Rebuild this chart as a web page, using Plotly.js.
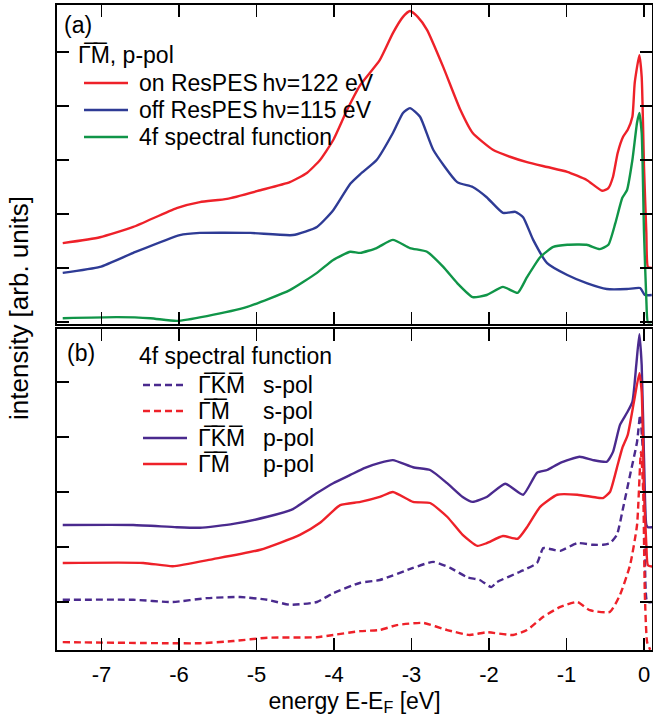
<!DOCTYPE html>
<html><head><meta charset="utf-8">
<script src="https://cdn.plot.ly/plotly-3.0.1.min.js"></script>
<style>html,body{margin:0;padding:0;background:#fff}</style>
</head><body>
<div id="chart" style="width:653px;height:722px"></div>
<script>
// ---------- Panel (a): GammaM, p-pol ----------
const eOnRes = [-7.50,-7.02,-6.59,-6.03,-5.73,-5.38,-4.95,-4.57,-4.35,-4.18,-4.01,-3.83,-3.66,-3.41,-3.24,-3.11,-3.02,-2.92,-2.80,-2.59,-2.37,-2.21,-1.95,-1.73,-1.51,-1.25,-0.99,-0.74,-0.54,-0.46,-0.40,-0.34,-0.27,-0.21,-0.15,-0.12,-0.06,-0.03,0.00,0.03,0.05,0.10];
const onRes  = [1.46,1.57,1.76,2.11,2.22,2.28,2.44,2.59,2.76,3.00,3.37,3.93,4.39,4.85,5.35,5.65,5.76,5.65,5.41,4.72,3.93,3.50,3.19,3.06,2.96,2.87,2.78,2.63,2.43,2.48,2.69,3.13,3.43,3.56,3.80,4.43,4.94,4.54,2.87,1.65,1.02,1.00];

const eOffRes = [-7.50,-7.02,-6.59,-5.99,-5.73,-5.08,-4.53,-4.22,-4.01,-3.79,-3.66,-3.45,-3.24,-3.11,-3.02,-2.89,-2.72,-2.41,-2.21,-2.03,-1.82,-1.66,-1.56,-1.43,-1.25,-0.99,-0.74,-0.48,-0.22,-0.05,0.01,0.10];
const offRes  = [0.91,1.02,1.28,1.61,1.65,1.65,1.61,1.76,2.07,2.56,2.74,3.00,3.50,3.87,3.96,3.80,3.19,2.59,2.50,2.31,2.02,2.04,1.94,1.52,1.09,0.87,0.72,0.61,0.61,0.63,0.50,0.50];

const eSpecA = [-7.50,-6.80,-6.37,-6.03,-5.64,-5.12,-4.57,-4.22,-4.01,-3.79,-3.66,-3.45,-3.24,-3.02,-2.80,-2.59,-2.41,-2.21,-2.03,-1.82,-1.63,-1.51,-1.34,-1.17,-0.99,-0.74,-0.57,-0.46,-0.37,-0.28,-0.22,-0.15,-0.09,-0.06,-0.03,0.00,0.03,0.05,0.10];
const specA  = [0.07,0.09,0.07,0.02,0.11,0.28,0.59,0.91,1.15,1.30,1.28,1.37,1.52,1.37,1.30,1.02,0.72,0.46,0.50,0.65,0.54,0.83,1.20,1.39,1.43,1.43,1.35,1.43,1.83,2.30,2.44,3.00,3.69,3.87,3.50,1.65,0.41,0.00,0.00];

// ---------- Panel (b): 4f spectral function ----------
const eGKM_p = [-7.50,-6.59,-6.03,-5.73,-5.30,-4.86,-4.53,-4.22,-4.01,-3.79,-3.60,-3.41,-3.24,-2.98,-2.76,-2.54,-2.34,-2.21,-2.03,-1.79,-1.56,-1.38,-1.25,-1.08,-0.83,-0.66,-0.48,-0.40,-0.31,-0.22,-0.15,-0.10,-0.06,-0.03,0.00,0.03,0.05,0.12];
const gkm_p  = [2.40,2.40,2.36,2.35,2.42,2.55,2.69,2.98,3.16,3.31,3.44,3.53,3.58,3.45,3.40,3.16,2.91,2.82,2.91,3.15,2.95,3.35,3.40,3.53,3.64,3.58,3.55,3.73,4.22,4.44,4.64,5.31,5.87,5.31,3.62,2.40,2.36,2.36];

const eGM_p = [-7.50,-6.46,-6.08,-5.56,-4.95,-4.44,-4.18,-3.92,-3.66,-3.41,-3.24,-2.98,-2.76,-2.54,-2.34,-2.15,-2.03,-1.82,-1.63,-1.51,-1.34,-1.12,-0.86,-0.66,-0.53,-0.44,-0.35,-0.28,-0.21,-0.13,-0.06,-0.03,0.00,0.03,0.05,0.12];
const gm_p  = [1.71,1.71,1.65,1.78,1.95,2.22,2.44,2.76,2.82,2.91,3.00,2.82,2.80,2.55,2.22,2.02,2.07,2.20,2.15,2.36,2.73,2.95,2.95,2.91,2.89,3.00,3.44,3.80,4.04,4.64,5.16,4.82,3.00,2.04,1.67,1.64];

const eGKM_s = [-7.50,-6.59,-6.08,-5.64,-5.21,-4.86,-4.57,-4.22,-4.01,-3.66,-3.41,-2.98,-2.72,-2.50,-2.28,-2.12,-1.97,-1.90,-1.60,-1.38,-1.30,-1.17,-1.08,-0.86,-0.66,-0.53,-0.44,-0.35,-0.27,-0.18,-0.09,-0.05,-0.01,0.01,0.04,0.10];
const gkm_s  = [1.04,1.04,1.00,1.07,1.09,1.04,0.95,1.00,1.16,1.35,1.40,1.62,1.73,1.62,1.45,1.40,1.27,1.36,1.55,1.71,1.98,1.95,1.93,2.07,2.04,2.04,2.07,2.22,2.71,3.31,3.91,4.40,3.62,2.09,1.00,1.00];

const eGM_s = [-7.50,-6.15,-5.73,-5.30,-4.86,-4.22,-4.01,-3.66,-3.41,-3.19,-2.85,-2.54,-2.25,-2.03,-1.69,-1.51,-1.30,-1.08,-0.86,-0.70,-0.44,-0.31,-0.18,-0.09,-0.04,-0.01,0.01,0.04,0.08];
const gm_s  = [0.27,0.25,0.25,0.29,0.35,0.36,0.40,0.47,0.49,0.58,0.62,0.49,0.40,0.45,0.40,0.49,0.73,0.91,1.00,0.85,0.82,1.13,1.67,2.40,3.73,3.00,1.18,0.27,0.13];

// ---------- axis ticks ----------
const xTickVals = [-7,-6,-5,-4,-3,-2,-1,0];
const xTickText = ['-7','-6','-5','-4','-3','-2','-1','0'];
const yTickValsA = [0,1,2,3,4,5];
const yTickValsB = [1,2,3,4,5];

// ---------- styling ----------
const RED = '#ee2129', BLUE = '#2e3b95', GREEN = '#109548', PURPLE = '#4a2a8e';
const LW = 2.4;
const FONT = 'Liberation Sans, Arial, Helvetica, sans-serif';
const OL = '\u0305';
const G = '\u0393' + OL, M = 'M' + OL, K = 'K' + OL;

function ln(color, dash){ return {color: color, width: LW, dash: dash || 'solid', shape: 'spline', smoothing: 0.5}; }

const traces = [
  {x: eOnRes, y: onRes, xaxis: 'x2', yaxis: 'y2', mode: 'lines', line: ln(RED)},
  {x: eOffRes, y: offRes, xaxis: 'x2', yaxis: 'y2', mode: 'lines', line: ln(BLUE)},
  {x: eSpecA, y: specA, xaxis: 'x2', yaxis: 'y2', mode: 'lines', line: ln(GREEN)},
  {x: eGKM_s, y: gkm_s, xaxis: 'x', yaxis: 'y', mode: 'lines', line: ln(PURPLE, '7px,4px')},
  {x: eGM_s, y: gm_s, xaxis: 'x', yaxis: 'y', mode: 'lines', line: ln(RED, '7px,4px')},
  {x: eGKM_p, y: gkm_p, xaxis: 'x', yaxis: 'y', mode: 'lines', line: ln(PURPLE)},
  {x: eGM_p, y: gm_p, xaxis: 'x', yaxis: 'y', mode: 'lines', line: ln(RED)}
];

// pixel -> paper helpers (plot area: x 57..652, y 5..650)
const PL = 57, PR = 652, PT = 5, PB = 650;
const px = v => (v - PL) / (PR - PL);
const py = v => (PB - v) / (PB - PT);

const axBase = {
  showline: true, linecolor: '#000', linewidth: 2, mirror: 'ticks',
  ticks: 'inside', ticklen: 12, tickwidth: 1.5, tickcolor: '#000',
  showgrid: false, zeroline: false, fixedrange: true
};
const xRange = [-7.574, 0.103];

const fs = 23;
const annotations = [
  {text: '(a)', x: px(62), y: py(25), xanchor: 'left', yanchor: 'middle', font: {size: 23}},
  {text: G + M + ', p-pol', x: px(76), y: py(55), xanchor: 'left', yanchor: 'middle', font: {size: fs}},
  {text: 'on ResPES\u2009h\u03bd=122 eV', x: px(137), y: py(83), xanchor: 'left', yanchor: 'middle', font: {size: fs}},
  {text: 'off ResPES\u2009h\u03bd=115 eV', x: px(137), y: py(110), xanchor: 'left', yanchor: 'middle', font: {size: fs}},
  {text: '4f spectral function', x: px(137), y: py(137), xanchor: 'left', yanchor: 'middle', font: {size: fs}},
  {text: '(b)', x: px(65), y: py(353), xanchor: 'left', yanchor: 'middle', font: {size: 23}},
  {text: '4f spectral function', x: px(137), y: py(356), xanchor: 'left', yanchor: 'middle', font: {size: fs}},
  {text: G + K + M, x: px(196), y: py(385), xanchor: 'left', yanchor: 'middle', font: {size: fs}},
  {text: G + M, x: px(196), y: py(411), xanchor: 'left', yanchor: 'middle', font: {size: fs}},
  {text: G + K + M, x: px(196), y: py(438), xanchor: 'left', yanchor: 'middle', font: {size: fs}},
  {text: G + M, x: px(196), y: py(464), xanchor: 'left', yanchor: 'middle', font: {size: fs}},
  {text: 's-pol', x: px(261), y: py(385), xanchor: 'left', yanchor: 'middle', font: {size: fs}},
  {text: 's-pol', x: px(261), y: py(411), xanchor: 'left', yanchor: 'middle', font: {size: fs}},
  {text: 'p-pol', x: px(261), y: py(438), xanchor: 'left', yanchor: 'middle', font: {size: fs}},
  {text: 'p-pol', x: px(261), y: py(464), xanchor: 'left', yanchor: 'middle', font: {size: fs}},
  {text: 'intensity [arb. units]', x: px(19), y: py(308), xanchor: 'center', yanchor: 'middle', textangle: -90, font: {size: 26}}
].map(a => Object.assign({xref: 'paper', yref: 'paper', showarrow: false}, a));

function legLine(x0, x1, y, color, dash){
  return {type: 'line', xref: 'paper', yref: 'paper', x0: px(x0), x1: px(x1), y0: py(y), y1: py(y),
          line: {color: color, width: LW, dash: dash || 'solid'}};
}
const shapes = [
  legLine(84, 128, 83, RED), legLine(84, 128, 110, BLUE), legLine(84, 128, 137, GREEN),
  legLine(143, 187, 385, PURPLE, '7px,4px'), legLine(143, 187, 411, RED, '7px,4px'),
  legLine(143, 187, 438, PURPLE), legLine(143, 187, 464, RED)
];

const layout = {
  width: 653, height: 722,
  margin: {l: PL, r: 653 - PR, t: PT, b: 722 - PB},
  paper_bgcolor: '#fff', plot_bgcolor: '#fff',
  showlegend: false,
  font: {family: FONT, color: '#000', size: 22},
  xaxis: Object.assign({}, axBase, {
    domain: [0, 1], anchor: 'y', range: xRange,
    tickvals: xTickVals, ticktext: xTickText, tickfont: {size: 22},
    ticklabelstandoff: 4,
    title: {text: 'energy E-E<sub>F</sub> [eV]', font: {size: 23}, standoff: 6}
  }),
  xaxis2: Object.assign({}, axBase, {
    domain: [0, 1], anchor: 'y2', range: xRange, matches: 'x',
    tickvals: xTickVals, showticklabels: false
  }),
  yaxis: Object.assign({}, axBase, {
    domain: [0, py(329)], anchor: 'x', range: [0.127, 5.964],
    tickvals: yTickValsB, showticklabels: false
  }),
  yaxis2: Object.assign({}, axBase, {
    domain: [py(324), 1], anchor: 'x2', range: [-0.037, 5.87],
    tickvals: yTickValsA, showticklabels: false
  }),
  annotations: annotations,
  shapes: shapes
};

Plotly.newPlot('chart', traces, layout, {displayModeBar: false, staticPlot: true});
</script>
</body></html>
